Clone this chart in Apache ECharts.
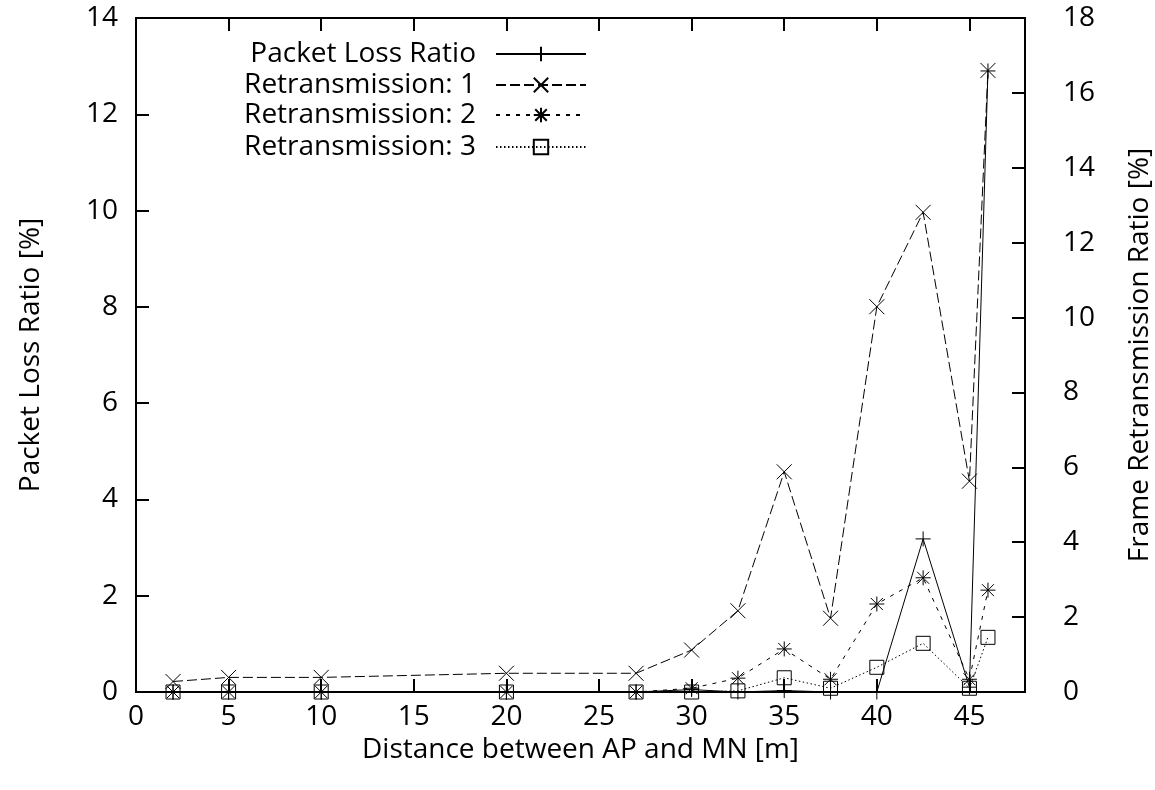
<!DOCTYPE html>
<html>
<head>
<meta charset="utf-8">
<script src="https://cdn.jsdelivr.net/npm/echarts@6/dist/echarts.min.js"></script>
<style>
html,body{margin:0;padding:0;background:#fff;}
#chart{width:1155px;height:790px;}
</style>
</head>
<body>
<div id="chart"></div>
<script>
// ---- data ----
const distance = [2, 5, 10, 20, 27, 30, 32.5, 35, 37.5, 40, 42.5, 45, 46];
const packetLoss = [0, 0, 0, 0, 0, 0.05, 0, 0.03, 0, 0, 3.18, 0.1, 12.9];
const retrans1 = [0.28, 0.39, 0.39, 0.5, 0.5, 1.12, 2.17, 5.88, 1.97, 10.29, 12.81, 5.63, 16.6];
const retrans2 = [0, 0, 0, 0, 0, 0.1, 0.37, 1.15, 0.34, 2.35, 3.05, 0.34, 2.72];
const retrans3 = [0, 0, 0, 0, 0, 0, 0.03, 0.38, 0.1, 0.66, 1.3, 0.1, 1.46];
const seriesNames = ['Packet Loss Ratio', 'Retransmission: 1', 'Retransmission: 2', 'Retransmission: 3'];
const xTitle = 'Distance between AP and MN [m]';
const yLeftTitle = 'Packet Loss Ratio [%]';
const yRightTitle = 'Frame Retransmission Ratio [%]';

const FONT = 'Open Sans';
const FS = 28;
const SYM_PLUS = 'path://M0,7.5L15,7.5M7.5,0L7.5,15';
const SYM_CROSS = 'path://M0,0L15,15M15,0L0,15';
const SYM_STAR = 'path://M0,7.5L15,7.5M7.5,0L7.5,15M1.5,1.5L13.5,13.5M13.5,1.5L1.5,13.5';
const SYM_SQUARE = 'path://M0,0L15,0L15,15L0,15Z';

function pairs(ys) { return distance.map((x, i) => [x, ys[i]]); }

function mkSeries(name, ys, yIdx, symbol, dash, size) {
  return {
    name: name, type: 'line', xAxisIndex: 0, yAxisIndex: yIdx,
    data: pairs(ys), symbol: symbol, symbolSize: size, showSymbol: true,
    clip: false, animation: false,
    lineStyle: { color: '#000', width: 1, type: dash },
    itemStyle: { color: 'rgba(0,0,0,0)', borderColor: '#000', borderWidth: 1 },
    emphasis: { disabled: true }
  };
}

const legendRight = 568;
const legendTops = [39, 70, 100, 132];
const legends = seriesNames.map((n, i) => ({
  data: [n], right: legendRight, top: legendTops[i], align: 'right', orient: 'horizontal',
  itemWidth: 90, itemHeight: 18, selectedMode: false, padding: 0,
  textStyle: { fontFamily: FONT, fontSize: FS, lineHeight: 30, color: '#000', padding: [0, 15, 0, 0] }
}));

const tickStyle = { show: true, inside: true, length: 13, lineStyle: { color: '#000', width: 2 } };
const lineStyleAx = { show: true, onZero: false, lineStyle: { color: '#000', width: 2 } };

const chart = echarts.init(document.getElementById('chart'), null, { renderer: 'canvas' });
chart.setOption({
  backgroundColor: '#fff',
  animation: false,
  textStyle: { fontFamily: FONT },
  legend: legends,
  grid: { left: 136, right: 130, top: 18, bottom: 98, show: true, borderColor: '#000', borderWidth: 2,
    containLabel: false, outerBoundsMode: 'none' },
  xAxis: [{
    type: 'value', min: 0, max: 48, interval: 5, position: 'bottom',
    name: xTitle, nameLocation: 'middle', nameGap: 38,
    nameTextStyle: { fontFamily: FONT, fontSize: FS, color: '#000' },
    axisLine: lineStyleAx,
    axisTick: tickStyle,
    axisLabel: { fontFamily: FONT, fontSize: FS, color: '#000', margin: 11, showMaxLabel: false,
      formatter: v => (v % 5 === 0 ? String(v) : '') },
    splitLine: { show: false }
  }, {
    type: 'value', min: 0, max: 48, interval: 5, position: 'top',
    axisLine: lineStyleAx,
    axisTick: tickStyle,
    axisLabel: { show: false }, splitLine: { show: false }
  }],
  yAxis: [{
    type: 'value', min: 0, max: 14, interval: 2, position: 'left',
    name: yLeftTitle, nameLocation: 'middle', nameGap: 91, nameRotate: 90,
    nameTextStyle: { fontFamily: FONT, fontSize: FS, color: '#000' },
    axisLine: lineStyleAx,
    axisTick: tickStyle,
    axisLabel: { fontFamily: FONT, fontSize: FS, color: '#000', margin: 18 },
    splitLine: { show: false }
  }, {
    type: 'value', min: 0, max: 18, interval: 2, position: 'right',
    name: yRightTitle, nameLocation: 'middle', nameGap: 101, nameRotate: 90,
    nameTextStyle: { fontFamily: FONT, fontSize: FS, color: '#000' },
    axisLine: lineStyleAx,
    axisTick: tickStyle,
    axisLabel: { fontFamily: FONT, fontSize: FS, color: '#000', margin: 38 },
    splitLine: { show: false }
  }],
  series: [
    mkSeries(seriesNames[0], packetLoss, 0, SYM_PLUS, 'solid', 15),
    mkSeries(seriesNames[1], retrans1, 1, SYM_CROSS, [10, 4], 15),
    mkSeries(seriesNames[2], retrans2, 1, SYM_STAR, [4, 6], 15),
    mkSeries(seriesNames[3], retrans3, 1, SYM_SQUARE, [1.5, 2.5], 14)
  ]
});
</script>
</body>
</html>
